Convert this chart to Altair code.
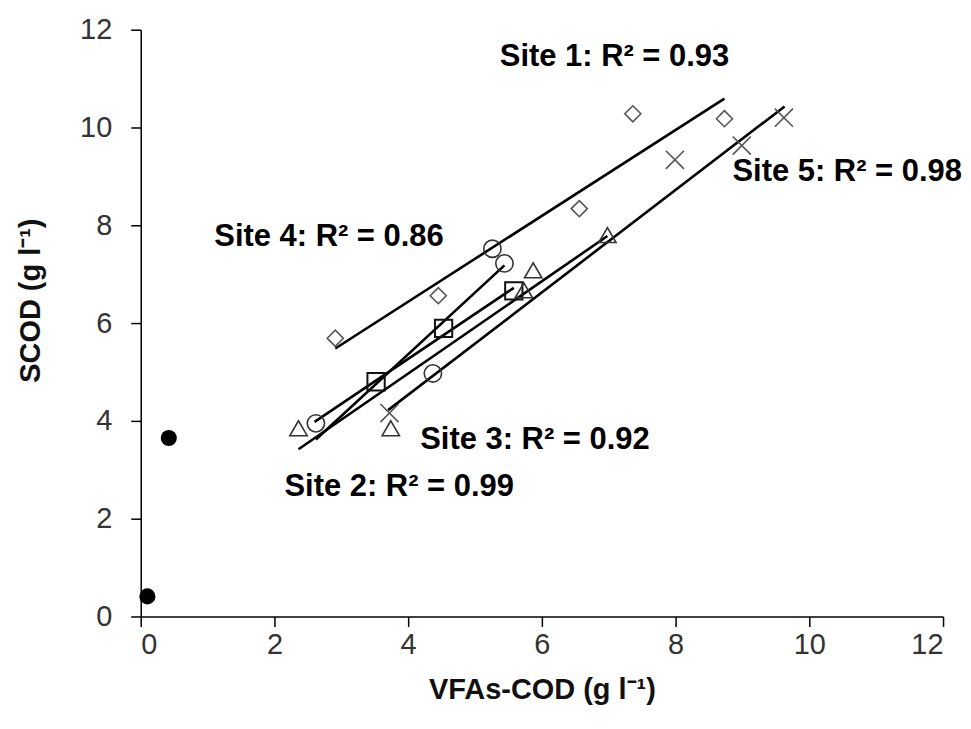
import altair as alt
import pandas as pd

# ---- data ----
axis_ticks = [0, 2, 4, 6, 8, 10, 12]

s1_x = [2.91, 4.45, 6.56, 7.36, 8.73]
s1_y = [5.69, 6.56, 8.34, 10.28, 10.18]
s2_x = [3.52, 4.53, 5.58]
s2_y = [4.80, 5.89, 6.66]
s3_x = [2.36, 3.74, 5.73, 5.87, 6.98]
s3_y = [3.85, 3.85, 6.67, 7.08, 7.80]
s4_x = [2.62, 4.37, 5.26, 5.44]
s4_y = [3.95, 4.97, 7.52, 7.22]
s5_x = [3.72, 7.99, 8.99, 9.62]
s5_y = [4.16, 9.34, 9.63, 10.20]
ctrl_x = [0.10, 0.42]
ctrl_y = [0.41, 3.65]

fit_site = ["Site 1", "Site 2", "Site 3", "Site 4", "Site 5"]
fit_x_start = [2.91, 2.60, 2.36, 2.62, 3.70]
fit_y_start = [5.48, 3.98, 3.42, 3.62, 4.22]
fit_x_end = [8.73, 5.58, 6.98, 5.44, 9.63]
fit_y_end = [10.59, 6.72, 7.78, 7.18, 10.43]

label_text = ["Site 1: R² = 0.93", "Site 2: R² = 0.99", "Site 3: R² = 0.92",
              "Site 4: R² = 0.86", "Site 5: R² = 0.98"]
label_x = [5.37, 2.15, 4.18, 1.10, 8.85]
label_y = [11.45, 2.65, 3.61, 7.76, 9.08]

# ---- tables ----
def pts(xs, ys):
    return pd.DataFrame({"x": xs, "y": ys})

lines_df = pd.DataFrame({
    "site": fit_site + fit_site,
    "x": fit_x_start + fit_x_end,
    "y": fit_y_start + fit_y_end,
})
labels_df = pd.DataFrame({"t": label_text, "x": label_x, "y": label_y})

FONT = "Liberation Sans"
xs = alt.Scale(domain=[0, 12], nice=False, zero=False)
ys = alt.Scale(domain=[0, 12], nice=False, zero=False)

x_axis = alt.Axis(values=axis_ticks, format="d", title="VFAs-COD (g l⁻¹)", grid=False,
                  tickSize=10, tickColor="black", domainColor="black",
                  domainWidth=1.5, tickWidth=1.5,
                  labelFont=FONT, labelFontSize=29, labelColor="#333",
                  labelPadding=4, titleFont=FONT, titleFontSize=29,
                  titleFontWeight="bold", titleColor="#111",
                  titleY=73, titleBaseline="middle")
y_axis = alt.Axis(values=axis_ticks, format="d", title="SCOD (g l⁻¹)", grid=False,
                  tickSize=10, tickColor="black", domainColor="black",
                  domainWidth=1.5, tickWidth=1.5,
                  labelFont=FONT, labelFontSize=29, labelColor="#333",
                  labelPadding=19, titleFont=FONT, titleFontSize=29,
                  titleFontWeight="bold", titleColor="#111",
                  titleX=-110, titleY=271, titleAngle=270,
                  titleAlign="center", titleBaseline="middle")

lines = alt.Chart(lines_df).mark_line(color="black", strokeWidth=2.6).encode(
    x=alt.X("x:Q", scale=xs, axis=x_axis),
    y=alt.Y("y:Q", scale=ys, axis=y_axis),
    detail="site:N",
)

def sym(xs_, ys_, shape, size, color, sw, filled=False):
    return alt.Chart(pts(xs_, ys_)).mark_point(
        shape=shape, size=size, filled=filled, color=color,
        strokeWidth=sw, opacity=1,
    ).encode(x=alt.X("x:Q", scale=xs), y=alt.Y("y:Q", scale=ys))

diamonds = sym(s1_x, s1_y, "diamond", 260, "#555", 1.6)
squares = sym(s2_x, s2_y, "square", 300, "#111", 2.0)
triangles = sym(s3_x, s3_y, "triangle-up", 300, "#333", 1.6)
circles = sym(s4_x, s4_y, "circle", 300, "#333", 1.6)
crosses = sym(s5_x, s5_y, "M -1 -1 L 1 1 M -1 1 L 1 -1", 330, "#555", 1.6)
ctrl = sym(ctrl_x, ctrl_y, "circle", 260, "black", 1, filled=True)

labels = alt.Chart(labels_df).mark_text(
    align="left", baseline="middle", font=FONT, fontSize=31,
    fontWeight="bold", color="black",
).encode(x=alt.X("x:Q", scale=xs), y=alt.Y("y:Q", scale=ys), text="t:N")

chart = alt.layer(lines, diamonds, squares, triangles, circles, crosses, ctrl, labels).properties(
    width=804, height=588,
    padding={"left": 133, "top": 21, "right": 20, "bottom": 100},
    autosize=alt.AutoSizeParams(type="none"),
    background="white",
).configure_view(stroke=None)

chart.save("out.html", embed_options={"renderer": "svg", "actions": False})
